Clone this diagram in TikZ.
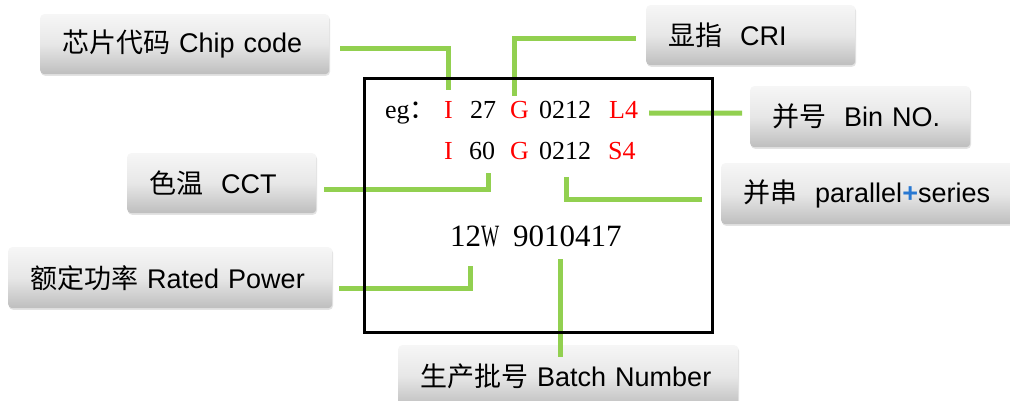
\documentclass[tikz,border=0pt]{standalone}
\usepackage{fontspec}
\setmainfont{Liberation Serif}
\newfontfamily\lab{Liberation Sans}
\newfontfamily\cjk{Noto Sans CJK SC}
\usetikzlibrary{shadows}
\definecolor{lgtop}{RGB}{246,246,246}
\definecolor{lgmid}{RGB}{231,231,231}
\definecolor{lgbot}{RGB}{190,190,190}
\definecolor{lgreen}{RGB}{146,208,80}
\definecolor{tred}{RGB}{255,0,0}
\definecolor{plusblue}{RGB}{40,120,210}
\begin{document}
\begin{tikzpicture}[x=1pt,y=-1pt,
  lbl/.style={rounded corners=4pt, draw=none, top color=lgtop, bottom color=lgbot, middle color=lgmid,
    anchor=north west, inner xsep=22pt, inner ysep=0pt, align=left,
    font=\lab\fontsize{27}{32}\selectfont,
    drop shadow={opacity=0.22, shadow xshift=0.8pt, shadow yshift=-1.6pt}},
  conn/.style={draw=lgreen, line width=5pt},
  tok/.style={anchor=base west, inner sep=0pt, font=\fontsize{26}{26}\selectfont},
  bigtok/.style={anchor=base west, inner sep=0pt, font=\fontsize{31}{31}\selectfont},
  red/.style={text=tred},
  frame/.style={draw=black, line width=3pt}]
\useasboundingbox (0,0) rectangle (1010,401);
\fill[white] (0,0) rectangle (1010,401);

% label boxes
\node[lbl, text width=245pt, minimum height=60pt] (chip) at (40,14) {{\cjk 芯片代码} Chip code};
\node[lbl, text width=165pt, minimum height=60pt] (cri) at (646,5) {{\cjk 显指}\ \ CRI};
\node[lbl, text width=176pt, minimum height=61pt] (bin) at (750,86) {{\cjk 并号}\ \ Bin NO.};
\node[lbl, text width=251pt, minimum height=61pt] (par) at (721,163) {{\cjk 并串}\ \ parallel{\color{plusblue}\bfseries +}series};
\node[lbl, text width=145pt, minimum height=60pt] (cct) at (127,153) {{\cjk 色温}\ \ CCT};
\node[lbl, text width=280pt, minimum height=61pt] (pow) at (8,247) {{\cjk 额定功率} Rated Power};
\node[lbl, text width=296pt, minimum height=62pt] (bat) at (398,345) {{\cjk 生产批号} Batch Number};

% text tokens inside the frame
\node[tok] (t1eg) at (385,119) {eg{\cjk ：}};
\node[tok, red] (t1I) at (444,119) {I};
\node[tok] (t127) at (470,119) {27};
\node[tok, red] (t1G) at (510,119) {G};
\node[tok] (t1n) at (539,119) {0212};
\node[tok, red] (t1L) at (609,119) {L4};
\node[tok, red] (t2I) at (444,160) {I};
\node[tok] (t260) at (469,160) {60};
\node[tok, red] (t2G) at (510,160) {G};
\node[tok] (t2n) at (539,160) {0212};
\node[tok, red] (t2S) at (608,160) {S4};
\node[bigtok] (t3w) at (450,246) {12\scalebox{0.62}[1]{W}};
\node[bigtok] (t3n) at (513,246) {9010417};

% connector end points
\coordinate (c1) at (448,90);
\coordinate (c2) at (514,96);
\coordinate (c3) at (649,113);
\coordinate (c4) at (566,177);
\coordinate (c5) at (488,173);
\coordinate (c6) at (470,266);
\coordinate (c7) at (560,259);

% connectors
\draw[conn] ([shift={(11,4)}]chip.east) -| (c1);
\draw[conn] ([shift={(-10,3)}]cri.west) -| (c2);
\draw[conn] (c3) -- ([shift={(-8,-3.5)}]bin.west);
\draw[conn] (c4) |- ([shift={(-19,5.5)}]par.west);
\draw[conn] ([shift={(8,6)}]cct.east) -| (c5);
\draw[conn] ([shift={(7,10.5)}]pow.east) -| (c6);
\draw[conn] (c7) -- ([yshift=-12pt]c7 |- bat.north);

% frame
\node[frame, anchor=north west, minimum width=348pt, minimum height=254pt, inner sep=0pt] (box) at (363,77) {};
\end{tikzpicture}
\end{document}
